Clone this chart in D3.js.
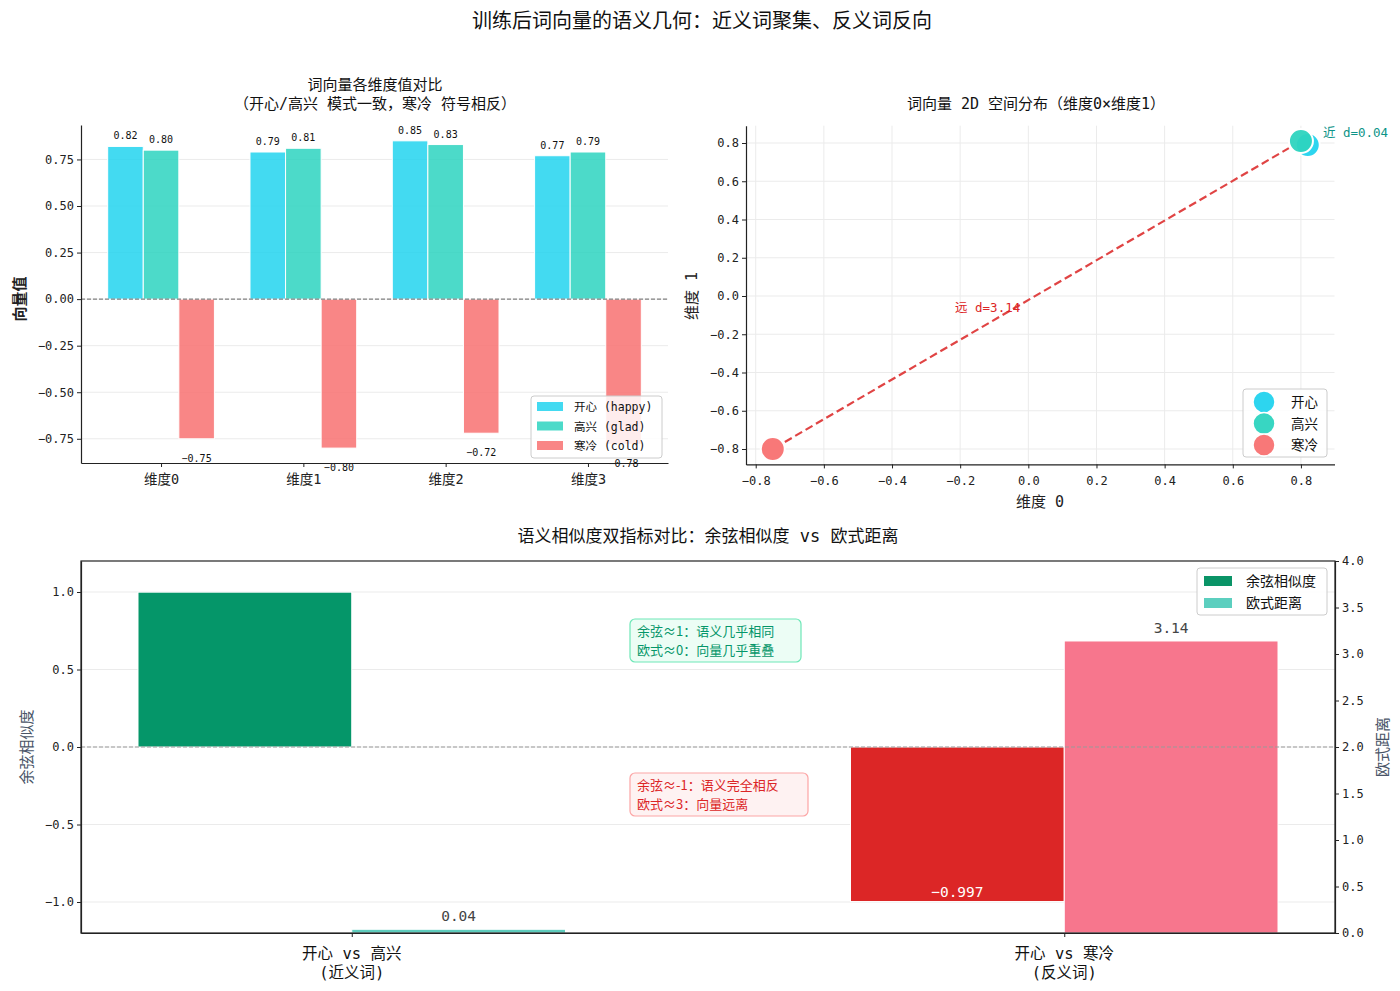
<!DOCTYPE html>
<html>
<head>
<meta charset="utf-8">
<script src="https://cdn.jsdelivr.net/npm/d3@7/dist/d3.min.js"></script>
<style>
  body { margin: 0; background: #fff; }
  svg { font-family: "DejaVu Sans Mono", "Noto Sans CJK SC", sans-serif; }
</style>
</head>
<body>
<script>
// ---- data ----
var dims = ["维度0", "维度1", "维度2", "维度3"];
var happy = [0.82, 0.79, 0.85, 0.77];
var glad = [0.80, 0.81, 0.83, 0.79];
var cold = [-0.75, -0.80, -0.72, -0.78];
var wordNames = ["开心 (happy)", "高兴 (glad)", "寒冷 (cold)"];
var pointNames = ["开心", "高兴", "寒冷"];
var pairs = ["开心 vs 高兴\n(近义词)", "开心 vs 寒冷\n(反义词)"];
var cosSim = [0.999, -0.997];
var eucDist = [0.04, 3.14];
var cosLabels = ["", "-0.997"];
var distLabels = ["0.04", "3.14"];

var W = 1400, H = 991;
var svg = d3.select("body").append("svg").attr("width", W).attr("height", H);

var cWord = ["#22d3ee", "#2dd4bf", "#f87171"];

svg.append("text").attr("x", 702).attr("y", 28).attr("text-anchor", "middle")
  .attr("font-size", 20).attr("fill", "#111")
  .text("训练后词向量的语义几何：近义词聚集、反义词反向");

function gridY(g, scale, ticks, x0, x1) {
  g.selectAll(null).data(ticks).enter().append("line")
    .attr("x1", x0).attr("x2", x1)
    .attr("y1", function(d){ return scale(d); }).attr("y2", function(d){ return scale(d); })
    .attr("stroke", "#ebebeb").attr("stroke-width", 1);
}
function styleAxis(g) {
  g.attr("font-family", null).attr("font-size", null);
  g.selectAll("text").attr("font-size", 12).attr("fill", "#222");
  g.selectAll(".tick line").attr("stroke", "#222");
  g.select(".domain").attr("stroke", "#222").attr("stroke-width", 1.2);
}
function minus(s) { return s.replace("-", "−"); }

// ================= panel 1 =================
var p1 = svg.append("g");
var x1 = d3.scaleLinear().domain([-0.5625, 3.5625]).range([81, 668]);
var y1 = d3.scaleLinear().domain([-0.88, 0.935]).range([463, 125]);
var y1ticks = [-0.75, -0.5, -0.25, 0, 0.25, 0.5, 0.75];
gridY(p1, y1, y1ticks, 81, 668);

var bw = x1(0.25) - x1(0);
var series1 = [happy, glad, cold];
series1.forEach(function(vals, s) {
  p1.selectAll(null).data(vals).enter().append("rect")
    .attr("x", function(d, i){ return x1(i + (s - 1) * 0.25) - bw / 2; })
    .attr("width", bw)
    .attr("y", function(d){ return y1(Math.max(0, d)); })
    .attr("height", function(d){ return Math.abs(y1(d) - y1(0)); })
    .attr("fill", cWord[s]).attr("fill-opacity", 0.85)
    .attr("stroke", "#fff").attr("stroke-width", 1);
  p1.selectAll(null).data(vals).enter().append("text")
    .attr("x", function(d, i){ return x1(i + (s - 1) * 0.25); })
    .attr("y", function(d){ return d > 0 ? y1(d) - 7 : y1(d) + 23; })
    .attr("text-anchor", "middle").attr("font-size", 10).attr("fill", "#111")
    .text(function(d){ return minus(d.toFixed(2)); });
});
p1.append("line").attr("x1", 81).attr("x2", 668).attr("y1", y1(0)).attr("y2", y1(0))
  .attr("stroke", "#666").attr("stroke-dasharray", "4,2").attr("stroke-width", 1);

var ax1 = p1.append("g").attr("transform", "translate(81,0)")
  .call(d3.axisLeft(y1).tickValues(y1ticks).tickFormat(d3.format(".2f")).tickSize(4).tickSizeOuter(0));
styleAxis(ax1);
ax1.selectAll("text").text(function(d){ return minus(d3.format(".2f")(d)); });
var bx1 = p1.append("g").attr("transform", "translate(0,463)")
  .call(d3.axisBottom(x1).tickValues([0, 1, 2, 3]).tickFormat(function(d){ return dims[d]; }).tickSize(4).tickSizeOuter(0));
styleAxis(bx1);
bx1.selectAll("text").attr("font-size", 13.5).attr("dy", "1.05em");

p1.append("text").attr("x", 375).attr("y", 90).attr("text-anchor", "middle")
  .attr("font-size", 15).attr("fill", "#111").text("词向量各维度值对比");
p1.append("text").attr("x", 375).attr("y", 109).attr("text-anchor", "middle")
  .attr("font-size", 15).attr("fill", "#111").text("（开心/高兴 模式一致，寒冷 符号相反）");
p1.append("text").attr("transform", "translate(25,299) rotate(-90)").attr("text-anchor", "middle")
  .attr("font-size", 15).attr("font-weight", "bold").attr("fill", "#222").text("向量值");

var lg1 = p1.append("g").attr("transform", "translate(531,396)");
lg1.append("rect").attr("width", 131).attr("height", 62).attr("rx", 3)
  .attr("fill", "#fff").attr("fill-opacity", 0.85).attr("stroke", "#ccc");
wordNames.forEach(function(n, i) {
  lg1.append("rect").attr("x", 6).attr("y", 6 + i * 19.5).attr("width", 26).attr("height", 9)
    .attr("fill", cWord[i]).attr("fill-opacity", 0.85);
  lg1.append("text").attr("x", 43).attr("y", 15 + i * 19.5).attr("font-size", 11.5)
    .attr("fill", "#111").text(n);
});

// ================= panel 2 =================
var p2 = svg.append("g");
var x2 = d3.scaleLinear().domain([-0.8285, 0.8985]).range([746, 1334.5]);
var y2 = d3.scaleLinear().domain([-0.8805, 0.8905]).range([464.4, 125.7]);
var t2 = [-0.8, -0.6, -0.4, -0.2, 0, 0.2, 0.4, 0.6, 0.8];
gridY(p2, y2, t2, 746, 1334.5);
p2.selectAll(null).data(t2).enter().append("line")
  .attr("x1", function(d){ return x2(d); }).attr("x2", function(d){ return x2(d); })
  .attr("y1", 125.7).attr("y2", 464.4).attr("stroke", "#ebebeb");

var pts = [[happy[0], happy[1]], [glad[0], glad[1]], [cold[0], cold[1]]];
// dashed link between 寒冷 and 高兴
var a = pts[2], b = pts[1];
var ax = x2(a[0]), ay = y2(a[1]), bxp = x2(b[0]), byp = y2(b[1]);
var len = Math.hypot(bxp - ax, byp - ay), ux = (bxp - ax) / len, uy = (byp - ay) / len;
p2.append("line").attr("x1", ax + ux * 14).attr("y1", ay + uy * 14)
  .attr("x2", bxp - ux * 14).attr("y2", byp - uy * 14)
  .attr("stroke", "#e04444").attr("stroke-width", 2.2).attr("stroke-dasharray", "8,4");

[0, 1, 2].forEach(function(i) {
  p2.append("circle").attr("cx", x2(pts[i][0])).attr("cy", y2(pts[i][1])).attr("r", 12)
    .attr("fill", cWord[i]).attr("fill-opacity", 0.95).attr("stroke", "#fff").attr("stroke-width", 2);
});
p2.append("text").attr("x", x2(glad[0]) + 22).attr("y", y2(glad[1]) - 4)
  .attr("font-size", 12.5).attr("fill", "#0d9488").text("近 d=" + eucDist[0].toFixed(2));
p2.append("text").attr("x", x2(-0.215)).attr("y", y2(-0.06) + 5)
  .attr("font-size", 12.5).attr("fill", "#dc2626").text("远 d=" + eucDist[1].toFixed(2));

var ax2 = p2.append("g").attr("transform", "translate(746,0)")
  .call(d3.axisLeft(y2).tickValues(t2).tickFormat(d3.format(".1f")).tickSize(4).tickSizeOuter(0));
styleAxis(ax2);
ax2.selectAll("text").text(function(d){ return minus(d3.format(".1f")(d)); });
var bx2 = p2.append("g").attr("transform", "translate(0,464.4)")
  .call(d3.axisBottom(x2).tickValues(t2).tickFormat(d3.format(".1f")).tickSize(4).tickSizeOuter(0));
styleAxis(bx2);
bx2.selectAll("text").attr("dy", "1.1em").text(function(d){ return minus(d3.format(".1f")(d)); });

p2.append("text").attr("x", 1036).attr("y", 109).attr("text-anchor", "middle")
  .attr("font-size", 15).attr("fill", "#111").text("词向量 2D 空间分布（维度0×维度1）");
p2.append("text").attr("x", 1040).attr("y", 507).attr("text-anchor", "middle")
  .attr("font-size", 15).attr("fill", "#222").text("维度 0");
p2.append("text").attr("transform", "translate(697,296) rotate(-90)").attr("text-anchor", "middle")
  .attr("font-size", 15).attr("fill", "#222").text("维度 1");

var lg2 = p2.append("g").attr("transform", "translate(1243,389)");
lg2.append("rect").attr("width", 84).attr("height", 68).attr("rx", 3)
  .attr("fill", "#fff").attr("fill-opacity", 0.85).attr("stroke", "#ccc");
pointNames.forEach(function(n, i) {
  lg2.append("circle").attr("cx", 21).attr("cy", 13 + i * 21.5).attr("r", 11)
    .attr("fill", cWord[i]).attr("fill-opacity", 0.95).attr("stroke", "#fff").attr("stroke-width", 1.5);
  lg2.append("text").attr("x", 48).attr("y", 18 + i * 21.5).attr("font-size", 13.5)
    .attr("fill", "#111").text(n);
});

// ================= panel 3 =================
var p3 = svg.append("g");
var x3 = d3.scaleLinear().domain([-0.38, 1.38]).range([81, 1335]);
var y3 = d3.scaleLinear().domain([-1.2, 1.2]).range([933, 561]);
var y3r = d3.scaleLinear().domain([0, 4]).range([933, 561]);
var t3 = [-1.0, -0.5, 0, 0.5, 1.0];
gridY(p3, y3, t3, 81, 1335);

var bw3 = x3(0.3) - x3(0);
var cosCol = ["#059669", "#dc2626"], distCol = ["#5eccbd", "#f7768d"];
p3.selectAll(null).data(cosSim).enter().append("rect")
  .attr("x", function(d, i){ return x3(i - 0.15) - bw3 / 2; }).attr("width", bw3)
  .attr("y", function(d){ return y3(Math.max(0, d)); })
  .attr("height", function(d){ return Math.abs(y3(d) - y3(0)); })
  .attr("fill", function(d, i){ return cosCol[i]; }).attr("stroke", "#fff").attr("stroke-width", 1);
p3.selectAll(null).data(eucDist).enter().append("rect")
  .attr("x", function(d, i){ return x3(i + 0.15) - bw3 / 2; }).attr("width", bw3)
  .attr("y", function(d){ return y3r(d); })
  .attr("height", function(d){ return y3r(0) - y3r(d); })
  .attr("fill", function(d, i){ return distCol[i]; }).attr("stroke", "#fff").attr("stroke-width", 1);
p3.selectAll(null).data(eucDist).enter().append("text")
  .attr("x", function(d, i){ return x3(i + 0.15); }).attr("y", function(d){ return y3r(d) - 8; })
  .attr("text-anchor", "middle").attr("font-size", 14.5).attr("fill", "#444")
  .text(function(d, i){ return distLabels[i]; });
p3.selectAll(null).data(cosSim).enter().append("text")
  .attr("x", function(d, i){ return x3(i - 0.15); }).attr("y", function(d){ return y3(d) - 5; })
  .attr("text-anchor", "middle").attr("font-size", 14.5).attr("fill", "#fff")
  .text(function(d, i){ return minus(cosLabels[i]); });

p3.append("line").attr("x1", 81).attr("x2", 1335).attr("y1", y3(0)).attr("y2", y3(0))
  .attr("stroke", "#999").attr("stroke-dasharray", "4,2").attr("stroke-width", 1);

p3.append("rect").attr("x", 81).attr("y", 561).attr("width", 1254).attr("height", 372)
  .attr("fill", "none").attr("stroke", "#222").attr("stroke-width", 1.2);
var ax3 = p3.append("g").attr("transform", "translate(81,0)")
  .call(d3.axisLeft(y3).tickValues(t3).tickFormat(d3.format(".1f")).tickSize(4).tickSizeOuter(0));
styleAxis(ax3);
ax3.selectAll("text").text(function(d){ return minus(d3.format(".1f")(d)); });
var ar3 = p3.append("g").attr("transform", "translate(1335,0)")
  .call(d3.axisRight(y3r).tickValues(d3.range(0, 4.01, 0.5)).tickFormat(d3.format(".1f")).tickSize(4).tickSizeOuter(0));
styleAxis(ar3);
var bx3 = p3.append("g").attr("transform", "translate(0,933)")
  .call(d3.axisBottom(x3).tickValues([0, 1]).tickFormat("").tickSize(4).tickSizeOuter(0));
styleAxis(bx3);
pairs.forEach(function(p, i) {
  var lines = p.split("\n");
  lines.forEach(function(l, j) {
    p3.append("text").attr("x", x3(i)).attr("y", 959 + j * 19).attr("text-anchor", "middle")
      .attr("font-size", 15.5).attr("fill", "#111").text(l);
  });
});

p3.append("text").attr("x", 708).attr("y", 542).attr("text-anchor", "middle")
  .attr("font-size", 17).attr("fill", "#111").text("语义相似度双指标对比：余弦相似度 vs 欧式距离");
p3.append("text").attr("transform", "translate(32,747) rotate(-90)").attr("text-anchor", "middle")
  .attr("font-size", 15).attr("fill", "#4a5568").text("余弦相似度");
p3.append("text").attr("transform", "translate(1388,747) rotate(-90)").attr("text-anchor", "middle")
  .attr("font-size", 15).attr("fill", "#4a5568").text("欧式距离");

// annotation boxes
var notes = [
  { lines: ["余弦≈1：语义几乎相同", "欧式≈0：向量几乎重叠"], x: 630, y: 619, w: 171, fill: "#ecfdf5", stroke: "#6ee7b7", color: "#059669" },
  { lines: ["余弦≈-1：语义完全相反", "欧式≈3：向量远离"], x: 630, y: 773, w: 178, fill: "#fef2f2", stroke: "#fca5a5", color: "#dc2626" }
];
notes.forEach(function(n) {
  p3.append("rect").attr("x", n.x).attr("y", n.y).attr("width", n.w).attr("height", 43).attr("rx", 5)
    .attr("fill", n.fill).attr("stroke", n.stroke).attr("stroke-width", 1.2);
  var t = p3.append("text").attr("font-size", 13)
    .attr("font-family", "Noto Sans CJK SC").attr("fill", n.color);
  n.lines.forEach(function(l, j) {
    t.append("tspan").attr("x", n.x + 7).attr("y", n.y + 17 + j * 19).text(l);
  });
});

var lg3 = p3.append("g").attr("transform", "translate(1197,568)");
lg3.append("rect").attr("width", 130).attr("height", 47).attr("rx", 3)
  .attr("fill", "#fff").attr("fill-opacity", 0.85).attr("stroke", "#ccc");
[["余弦相似度", "#0a9467"], ["欧式距离", "#5ccfbf"]].forEach(function(e, i) {
  lg3.append("rect").attr("x", 7).attr("y", 8 + i * 22).attr("width", 28).attr("height", 10).attr("fill", e[1]);
  lg3.append("text").attr("x", 49).attr("y", 18 + i * 22).attr("font-size", 14).attr("fill", "#111").text(e[0]);
});
</script>
</body>
</html>
